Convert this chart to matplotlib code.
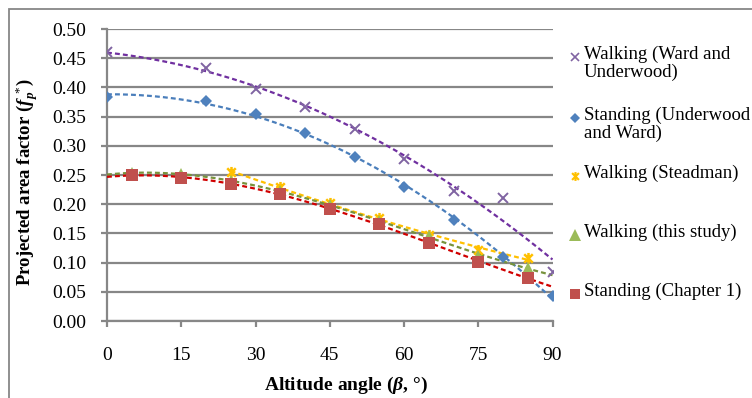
import numpy as np
import matplotlib
matplotlib.use("Agg")
import matplotlib.pyplot as plt
from matplotlib.path import Path
from matplotlib.lines import Line2D
from matplotlib.patches import Rectangle

# ── data ────────────────────────────────────────────────────────────────────
ward_x = [0, 20, 30, 40, 50, 60, 70, 80, 90]
ward_y = [0.460, 0.433, 0.397, 0.367, 0.329, 0.277, 0.222, 0.210, 0.084]

underwood_x = [0, 20, 30, 40, 50, 60, 70, 80, 90]
underwood_y = [0.384, 0.377, 0.354, 0.322, 0.281, 0.230, 0.173, 0.110, 0.043]

steadman_x = [25, 35, 45, 55, 65, 75, 85]
steadman_y = [0.255, 0.229, 0.202, 0.176, 0.147, 0.122, 0.108]

study_x = [5, 15, 25, 35, 45, 55, 65, 75, 85]
study_y = [0.254, 0.251, 0.240, 0.222, 0.198, 0.172, 0.145, 0.112, 0.091]

chap1_x = [5, 15, 25, 35, 45, 55, 65, 75, 85]
chap1_y = [0.250, 0.245, 0.235, 0.217, 0.192, 0.166, 0.134, 0.101, 0.074]

labels = ["Walking (Ward and\nUnderwood)",
          "Standing (Underwood\nand Ward)",
          "Walking (Steadman)",
          "Walking (this study)",
          "Standing (Chapter 1)"]

x_ticks = [0, 15, 30, 45, 60, 75, 90]
y_ticks = [0.00, 0.05, 0.10, 0.15, 0.20, 0.25, 0.30, 0.35, 0.40, 0.45, 0.50]

# ── style ───────────────────────────────────────────────────────────────────
SERIF = "Liberation Serif"
plt.rcParams.update({
    "font.family": SERIF,
    "mathtext.fontset": "custom",
    "mathtext.rm": SERIF,
    "mathtext.it": SERIF + ":italic",
    "mathtext.bf": SERIF + ":bold",
    "mathtext.bfit": SERIF + ":italic:bold",
})
AXIS_GRAY = "#878787"

# Excel-style star: an X with a vertical bar through it
STAR = Path([(-1, -1), (1, 1), (-1, 1), (1, -1), (0, -1.3), (0, 1.3)],
            [Path.MOVETO, Path.LINETO, Path.MOVETO, Path.LINETO,
             Path.MOVETO, Path.LINETO])

series = [
    # x, y, marker, marker colour, trend colour, marker size, legend size,
    # trend range, fit order
    (ward_x, ward_y, "x", "#8064A2", "#7030A0", 7, 5.6, (0, 90), 2),
    (underwood_x, underwood_y, "D", "#4F81BD", "#4A7EBB", 6.5, 5.2, (0, 90), 2),
    (steadman_x, steadman_y, STAR, "#FFC000", "#FFC000", 8, 6.4, (25, 85), 2),
    (study_x, study_y, "^", "#9BBB59", "#77933C", 9, 9, (0, 90), 3),
    (chap1_x, chap1_y, "s", "#C0504D", "#D00000", 8.5, 7, (0, 90), 3),
]

fig = plt.figure(figsize=(7.52, 3.98), dpi=100)
ax = fig.add_axes([107 / 752, 1 - 321 / 398, 445.5 / 752, 292 / 398])

# outer chart-area frame (only left and top edges fall inside the image)
fig.patches.append(Rectangle((9 / 752, -0.5), 2.0, 1.5 - 9 / 398,
                             transform=fig.transFigure, fill=False,
                             edgecolor=AXIS_GRAY, linewidth=1.3))

def marker_kw(mk):
    if mk == "x":
        return dict(mew=1.4)
    if mk is STAR:
        return dict(mew=1.8)
    return dict(mew=0)

for sx, sy, mk, mc, tc, ms, lms, (lo, hi), order in series:
    coef = np.polyfit(sx, sy, order)
    xx = np.linspace(lo, hi, 200)
    ax.plot(xx, np.polyval(coef, xx), color=tc, lw=1.6,
            dashes=(2.2, 1.4), zorder=3)
    ax.plot(sx, sy, ls="none", marker=mk, ms=ms, color=mc, zorder=4,
            **marker_kw(mk))

ax.set_xlim(0, 90)
ax.set_ylim(0, 0.5)
ax.set_xticks(x_ticks)
ax.set_yticks(y_ticks)
ax.set_yticklabels([f"{v:.2f}" for v in y_ticks])
ax.grid(True, axis="y", color=AXIS_GRAY, lw=1.6)
ax.set_axisbelow(True)
for side in ("top", "right"):
    ax.spines[side].set_visible(False)
for side in ("left", "bottom"):
    ax.spines[side].set_color(AXIS_GRAY)
    ax.spines[side].set_linewidth(1.6)
ax.tick_params(axis="both", colors=AXIS_GRAY, length=4, width=1.6,
               labelsize=14, labelcolor="black")
ax.tick_params(axis="x", pad=15)
ax.tick_params(axis="y", pad=11)

ax.set_xlabel(r"Altitude angle ($\mathbfit{\beta}$, °)", fontsize=14,
              fontweight="bold", va="center")
ax.xaxis.set_label_coords((346 - 107) / 445.5, (321 - 385) / 292)
ax.set_ylabel(r"Projected area factor ($\mathbfit{f}_{\mathbfit{p}}^{\ *}$)",
              fontsize=13.5, fontweight="bold", va="center")
ax.yaxis.set_label_coords((27 - 107) / 445.5, (321 - 182) / 292)

# legend laid out like Excel's: marker beside the first text line
leg_y = [57, 118, 176, 235, 294]
for (sx, sy, mk, mc, tc, ms, lms, rng, order), lab, yp in zip(series, labels,
                                                              leg_y):
    yf = 1 - yp / 398
    kw = marker_kw(mk)
    if kw["mew"]:
        kw["mew"] *= 0.85
    fig.add_artist(Line2D([575 / 752], [yf], marker=mk, ms=lms, color=mc,
                          ls="none", transform=fig.transFigure, **kw))
    fig.text(584 / 752, yf + 11 / 398, lab, fontsize=13.5, ha="left",
             va="top", linespacing=1.0, transform=fig.transFigure)

fig.savefig("out.png", dpi=100)
